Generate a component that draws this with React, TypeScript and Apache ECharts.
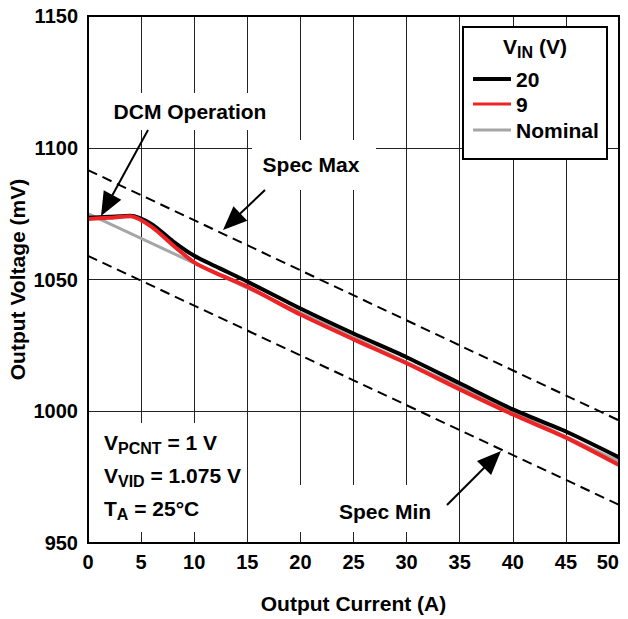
import React, { useEffect, useRef } from "react";
import * as echarts from "echarts";

const current = [0, 2, 4, 6, 8, 10, 12, 15, 20, 25, 30, 35, 40, 45, 50];
const vin20 = [1073.4, 1073.8, 1074.2, 1071, 1064.5, 1059, 1055, 1049.2, 1039, 1029.5, 1020.5, 1010.6, 1000.7, 992.3, 982.5];
const vin9 = [1073, 1073.4, 1074, 1070, 1063, 1056.5, 1052.5, 1047.3, 1036.7, 1027.3, 1018.2, 1008.3, 998.8, 990, 979.6];
const nominalX = [0, 50];
const nominalY = [1075, 981];
const specMaxY = [1091.5, 996.5];
const specMinY = [1059, 964.5];
const xTicks = [0, 5, 10, 15, 20, 25, 30, 35, 40, 45, 50];
const yTicks = [950, 1000, 1050, 1100, 1150];

const FONT = "'Liberation Sans', Arial, Helvetica, sans-serif";

function pairs(xs: number[], ys: number[]) {
  return xs.map((x, i) => [x, ys[i]]);
}

function arrow(x1: number, y1: number, x2: number, y2: number) {
  const dx = x2 - x1;
  const dy = y2 - y1;
  const len = Math.sqrt(dx * dx + dy * dy);
  const ux = dx / len;
  const uy = dy / len;
  const L = 24;
  const W = 10;
  const bx = x2 - ux * L;
  const by = y2 - uy * L;
  return [
    {
      type: "line",
      z: 30,
      shape: { x1, y1, x2: bx + ux * 2, y2: by + uy * 2 },
      style: { stroke: "#000", lineWidth: 2 },
    },
    {
      type: "polygon",
      z: 30,
      shape: {
        points: [
          [x2, y2],
          [bx - uy * W, by + ux * W],
          [bx + uy * W, by - ux * W],
        ],
      },
      style: { fill: "#000" },
    },
  ];
}

function whiteBox(x: number, y: number, w: number, h: number) {
  return { type: "rect", z: 20, shape: { x, y, width: w, height: h }, style: { fill: "#fff" } };
}

function boldText(x: number, y: number, text: string, align = "center") {
  return {
    type: "text",
    z: 25,
    x,
    y,
    style: {
      text,
      fill: "#000",
      font: `bold 21px ${FONT}`,
      align,
      verticalAlign: "middle",
    },
  };
}

const richStyles = {
  b: { fontSize: 21, fontWeight: "bold", fontFamily: FONT, color: "#000", lineHeight: 24, verticalAlign: "top" },
  s: { fontSize: 16, fontWeight: "bold", fontFamily: FONT, color: "#000", lineHeight: 12, verticalAlign: "bottom" },
};

function richText(x: number, y: number, text: string, align = "left") {
  return {
    type: "text",
    z: 25,
    x,
    y,
    style: {
      text,
      rich: richStyles,
      align,
      verticalAlign: "middle",
    },
  };
}

export default function App() {
  const ref = useRef<HTMLDivElement>(null);
  useEffect(() => {
    if (!ref.current) return;
    const chart = echarts.init(ref.current, undefined, { renderer: "svg" });
    const lineItem = (y: number, color: string, w: number) => ({
      type: "line",
      z: 30,
      shape: { x1: 473, y1: y, x2: 511, y2: y },
      style: { stroke: color, lineWidth: w },
    });
    const option = {
      animation: false,
      backgroundColor: "#fff",
      grid: {
        left: 88,
        top: 16,
        right: 9,
        bottom: 76,
        show: false,
        containLabel: false,
        outerBoundsMode: "none",
      },
      xAxis: {
        type: "value",
        min: 0,
        max: 50,
        interval: 5,
        name: "Output Current (A)",
        nameLocation: "middle",
        nameGap: 50,
        nameMoveOverlap: false,
        nameTextStyle: { fontSize: 21, fontWeight: "bold", fontFamily: FONT, color: "#000" },
        axisLine: { show: true, onZero: false, lineStyle: { color: "#000", width: 2 } },
        axisTick: { show: false },
        axisLabel: {
          fontSize: 20,
          fontWeight: "bold",
          fontFamily: FONT,
          color: "#000",
          margin: 9,
          alignMaxLabel: "right",
          formatter: (v: number) => String(v),
        },
        splitLine: { show: true, lineStyle: { color: "#222", width: 1 } },
      },
      yAxis: {
        type: "value",
        min: 950,
        max: 1150,
        interval: 50,
        name: "Output Voltage (mV)",
        nameLocation: "middle",
        nameGap: 60,
        nameMoveOverlap: false,
        nameTextStyle: { fontSize: 21, fontWeight: "bold", fontFamily: FONT, color: "#000" },
        axisLine: { show: true, lineStyle: { color: "#000", width: 2 } },
        axisTick: { show: false },
        axisLabel: {
          fontSize: 20,
          fontWeight: "bold",
          fontFamily: FONT,
          color: "#000",
          margin: 10,
          formatter: (v: number) => String(v),
        },
        splitLine: { show: true, lineStyle: { color: "#222", width: 1 } },
      },
      series: [
        {
          name: "Spec Max",
          type: "line",
          data: pairs(nominalX, specMaxY),
          symbol: "none",
          z: 3,
          lineStyle: { color: "#000", width: 2, type: [10, 6] },
        },
        {
          name: "Spec Min",
          type: "line",
          data: pairs(nominalX, specMinY),
          symbol: "none",
          z: 3,
          lineStyle: { color: "#000", width: 2, type: [10, 6] },
        },
        {
          name: "Nominal",
          type: "line",
          data: pairs(nominalX, nominalY),
          symbol: "none",
          z: 4,
          lineStyle: { color: "#a6a6a6", width: 3 },
        },
        {
          name: "20",
          type: "line",
          data: pairs(current, vin20),
          symbol: "none",
          smooth: 0.25,
          z: 5,
          lineStyle: { color: "#000", width: 4 },
        },
        {
          name: "9",
          type: "line",
          data: pairs(current, vin9),
          symbol: "none",
          smooth: 0.25,
          z: 6,
          lineStyle: { color: "#ee2326", width: 4 },
        },
      ],
      graphic: [
        {
          type: "rect",
          z: 40,
          shape: { x: 88, y: 16, width: 531, height: 527 },
          style: { fill: "none", stroke: "#000", lineWidth: 2 },
        },
        whiteBox(102, 93, 172, 37),
        boldText(190, 111, "DCM Operation"),
        ...arrow(148, 130, 101, 216),
        whiteBox(252, 140, 124, 50),
        boldText(311, 164, "Spec Max"),
        ...arrow(265, 190, 223, 230),
        whiteBox(300, 485, 157, 47),
        boldText(385, 511, "Spec Min"),
        ...arrow(447, 505, 501, 451),
        whiteBox(90, 423, 155, 109),
        richText(104, 444, "{b|V}{s|PCNT}{b| = 1 V}"),
        richText(104, 477, "{b|V}{s|VID}{b| = 1.075 V}"),
        richText(104, 510, "{b|T}{s|A}{b| = 25°C}"),
        {
          type: "rect",
          z: 20,
          shape: { x: 463, y: 27, width: 144, height: 132 },
          style: { fill: "#fff", stroke: "#000", lineWidth: 2 },
        },
        richText(535, 48, "{b|V}{s|IN}{b| (V)}", "center"),
        lineItem(79, "#000", 4),
        boldText(516, 79, "20", "left"),
        lineItem(104, "#ee2326", 3),
        boldText(516, 104, "9", "left"),
        lineItem(130, "#a6a6a6", 3),
        boldText(516, 130, "Nominal", "left"),
      ],
    };
    chart.setOption(option as any);
    return () => chart.dispose();
  }, []);
  return (
    <div
      ref={ref}
      style={{ position: "fixed", left: 0, top: 0, width: 628, height: 619, background: "#fff" }}
    />
  );
}
